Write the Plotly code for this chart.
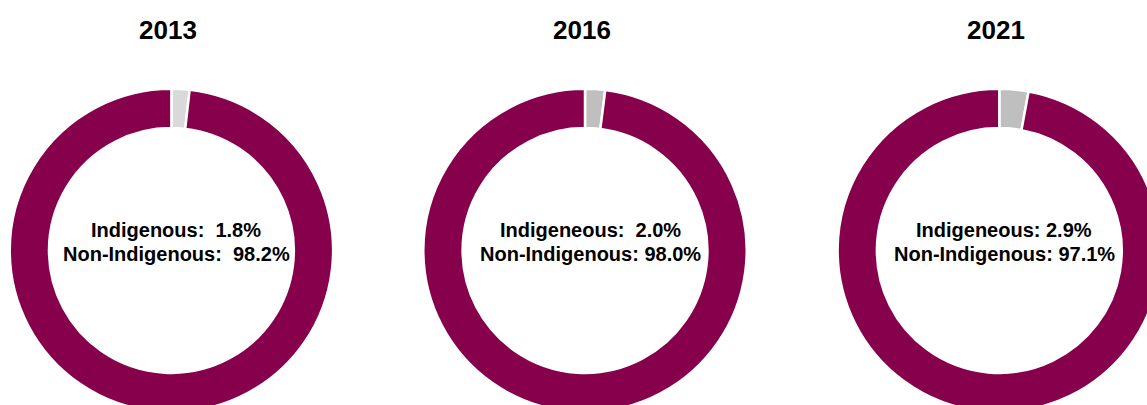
import plotly.graph_objects as go

years = ["2013", "2016", "2021"]
categories = ["Indigenous", "Non-Indigenous"]
indigenous = [1.8, 2.0, 2.9]
non_indigenous = [98.2, 98.0, 97.1]
label_line1 = ["Indigenous:  1.8%", "Indigeneous:  2.0%", "Indigeneous: 2.9%"]
label_line2 = ["Non-Indigenous:  98.2%", "Non-Indigenous: 98.0%", "Non-Indigenous: 97.1%"]
gray_colors = ["#D9D9D9", "#BFBFBF", "#BFBFBF"]
purple = "#86004C"

W, H = 1162, 413
centers_x = [171.4, 585.0, 999.3]
center_y = 250.5
radius = 161.7
FONT = "Arial, Liberation Sans, sans-serif"

fig = go.Figure()
for i, yr in enumerate(years):
    cx = centers_x[i]
    x0, x1 = (cx - radius) / W, (cx + radius) / W
    y0, y1 = (H - (center_y + radius)) / H, (H - (center_y - radius)) / H
    fig.add_trace(go.Pie(
        labels=categories,
        values=[indigenous[i], non_indigenous[i]],
        hole=0.757,
        sort=False,
        direction="clockwise",
        rotation=0,
        textinfo="none",
        hoverinfo="label+percent",
        marker=dict(colors=[gray_colors[i], purple], line=dict(color="white", width=2.5)),
        domain=dict(x=[max(0, x0), min(1, x1)], y=[max(0, y0), min(1, y1)]),
        showlegend=False,
    ))
    for txt, ypix in ((label_line1[i], 230.5), (label_line2[i], 254)):
        fig.add_annotation(
            x=(cx + 5) / W, y=(H - ypix) / H, xref="paper", yref="paper",
            text="<b>" + txt + "</b>", showarrow=False, xanchor="center", yanchor="middle",
            font=dict(family=FONT, size=20, color="black"), align="center",
        )
    fig.add_annotation(
        x=(cx - 3) / W, y=(H - 30) / H, xref="paper", yref="paper",
        text="<b>" + yr + "</b>", showarrow=False, xanchor="center", yanchor="middle",
        font=dict(family=FONT, size=26, color="black"),
    )

fig.update_layout(
    width=W, height=H,
    margin=dict(l=0, r=0, t=0, b=0),
    paper_bgcolor="white", plot_bgcolor="white",
)

fig.write_html(
    "out.html",
    config={"displayModeBar": False},
    post_script="document.body.style.margin='0';document.body.style.overflow='hidden';document.documentElement.style.overflow='hidden';",
)
